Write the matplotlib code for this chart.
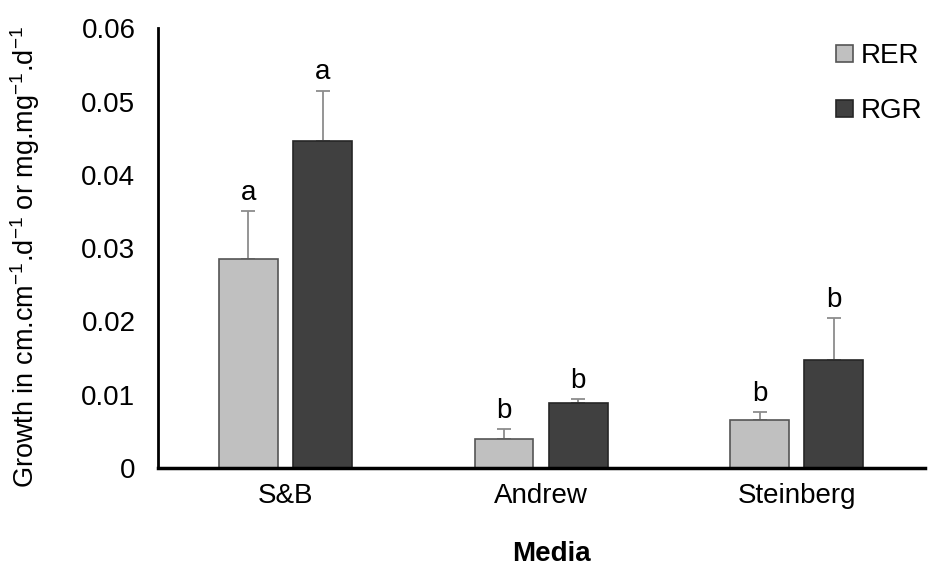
import numpy as np
import matplotlib.pyplot as plt

plt.rcParams['font.family'] = ['Liberation Sans', 'DejaVu Sans']
plt.rcParams['mathtext.fontset'] = 'custom'
plt.rcParams['mathtext.rm'] = 'Liberation Sans'
plt.rcParams['mathtext.it'] = 'Liberation Sans'

# data
media = ["S&B", "Andrew", "Steinberg"]
rer = [0.0285, 0.0040, 0.0065]
rer_err = [0.0066, 0.0013, 0.0011]
rgr = [0.0446, 0.0089, 0.0147]
rgr_err = [0.0069, 0.0005, 0.0058]
rer_letters = ["a", "b", "b"]
rgr_letters = ["a", "b", "b"]

fig = plt.figure(figsize=(9.33, 5.66), dpi=100)
ax = fig.add_axes([0.169, 0.173, 0.822, 0.777])

x = np.arange(len(media))
w = 0.23
off = 0.145

ax.bar(x - off, rer, w, color="#c0c0c0", edgecolor="#555555", linewidth=1.2, label="RER", zorder=2)
ax.bar(x + off, rgr, w, color="#404040", edgecolor="#262626", linewidth=1.2, label="RGR", zorder=2)

# upper error bars only
ax.errorbar(x - off, rer, yerr=[np.zeros(3), rer_err], fmt="none", ecolor="#8c8c8c",
            elinewidth=1.3, capsize=5, capthick=1.3, zorder=1)
ax.errorbar(x + off, rgr, yerr=[np.zeros(3), rgr_err], fmt="none", ecolor="#8c8c8c",
            elinewidth=1.3, capsize=5, capthick=1.3, zorder=1)

for i in range(len(media)):
    ax.text(x[i] - off, rer[i] + rer_err[i] + 0.0007, rer_letters[i], ha="center", va="bottom", fontsize=20)
    ax.text(x[i] + off, rgr[i] + rgr_err[i] + 0.0007, rgr_letters[i], ha="center", va="bottom", fontsize=20)

ax.set_xlim(-0.5, 2.5)
ax.set_ylim(0, 0.06)
ax.set_yticks([0, 0.01, 0.02, 0.03, 0.04, 0.05, 0.06])
ax.set_yticklabels(["0", "0.01", "0.02", "0.03", "0.04", "0.05", "0.06"])
ax.set_xticks(x)
ax.set_xticklabels(media)
ax.tick_params(axis="y", length=0, labelsize=20, pad=16)
ax.tick_params(axis="x", length=0, labelsize=20, pad=11)

for s in ["top", "right"]:
    ax.spines[s].set_visible(False)
ax.spines["left"].set_linewidth(2)
ax.spines["bottom"].set_linewidth(2.5)

ax.set_ylabel(r"Growth in cm.cm$^{-1}$.d$^{-1}$ or mg.mg$^{-1}$.d$^{-1}$", fontsize=19.5)
ax.yaxis.set_label_coords(-0.151, 0.48)
ax.set_xlabel("Media", fontsize=20, fontweight="bold")
ax.xaxis.set_label_coords(0.514, -0.165)

ax.legend(loc="upper right", bbox_to_anchor=(1.03, 1.023), frameon=False, fontsize=20,
          handlelength=0.6, handleheight=0.6, handletextpad=0.3, labelspacing=1.05)

fig.savefig("out.png", dpi=100)
